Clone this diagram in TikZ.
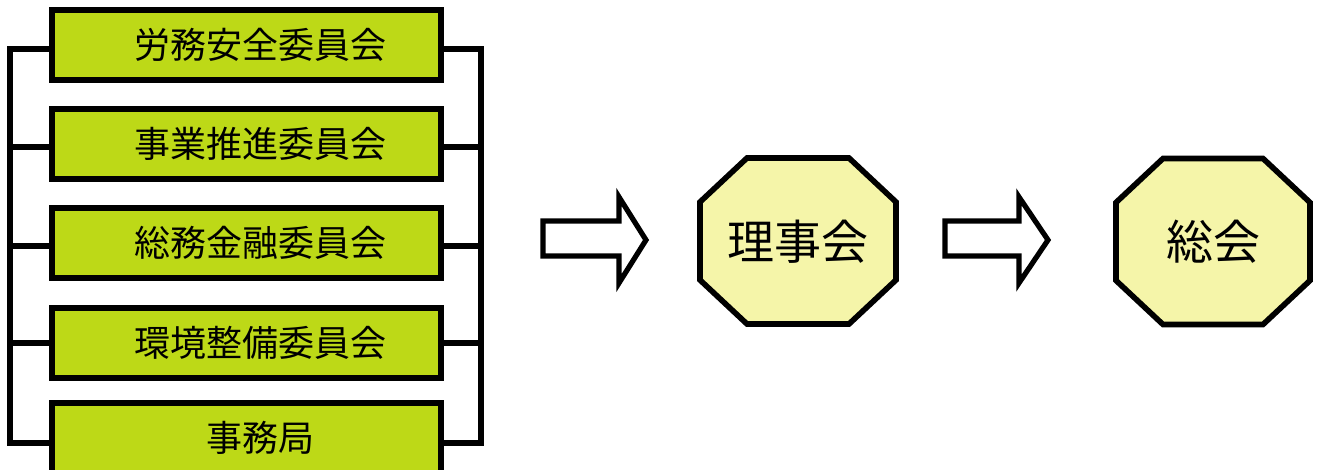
\documentclass[tikz,border=0pt]{standalone}
\usepackage{fontspec}
\newfontfamily\jp{Noto Sans CJK JP}
\usetikzlibrary{calc}
\definecolor{boxgreen}{RGB}{189,217,23}
\definecolor{octyellow}{RGB}{245,245,169}
\tikzset{
  committee/.style={draw=black, line width=3pt, fill=boxgreen, minimum width=194.5pt, minimum height=35pt, inner sep=0pt, font=\jp\fontsize{18pt}{18pt}\selectfont},
  conn/.style={draw=black, line width=2.6pt, line cap=rect},
  octnode/.style={inner sep=0pt, outer sep=0pt, font=\jp\fontsize{23.5pt}{23.5pt}\selectfont},
  octline/.style={draw=black, line width=2.8pt, fill=octyellow, line join=miter},
  blockarrow/.style={draw=black, line width=2.6pt, fill=white, line join=miter}
}
\begin{document}
\begin{tikzpicture}[x=0.5pt, y=-0.5pt]
\useasboundingbox (0,0) rectangle (1317,470);
% committee boxes
\node[committee] (b1) at (246.5,45)  {\hspace*{13.5pt}労務安全委員会};
\node[committee] (b2) at (246.5,144) {\hspace*{13.5pt}事業推進委員会};
\node[committee] (b3) at (246.5,243) {\hspace*{13.5pt}総務金融委員会};
\node[committee] (b4) at (246.5,343) {\hspace*{13.5pt}環境整備委員会};
\node[committee] (b5) at (246.5,438) {\hspace*{13.5pt}事務局};
% bus coordinates
\coordinate (L) at (10,0);
\coordinate (R) at (481,0);
% left bracket
\draw[conn] ($(b1.west)+(0,4)$) -| ($(L |- b5.west)+(0,5)$) -- ($(b5.west)+(0,5)$);
\draw[conn] ($(L |- b2.west)+(0,3)$) -- ($(b2.west)+(0,3)$);
\draw[conn] ($(L |- b3.west)+(0,3)$) -- ($(b3.west)+(0,3)$);
\draw[conn] ($(L |- b4.west)+(0,0)$) -- ($(b4.west)+(0,0)$);
% right bracket
\draw[conn] ($(b1.east)+(0,4)$) -| ($(R |- b5.east)+(0,5)$) -- ($(b5.east)+(0,5)$);
\draw[conn] ($(R |- b2.east)+(0,3)$) -- ($(b2.east)+(0,3)$);
\draw[conn] ($(R |- b3.east)+(0,3)$) -- ($(b3.east)+(0,3)$);
\draw[conn] ($(R |- b4.east)+(0,0)$) -- ($(b4.east)+(0,0)$);
% block arrows
\draw[blockarrow] (543,221) -- (619,221) -- (619,197) -- (646,240) -- (619,283) -- (619,256) -- (543,256) -- cycle;
\draw[blockarrow] (945,221) -- (1019,221) -- (1019,197) -- (1048,240) -- (1019,283) -- (1019,256) -- (945,256) -- cycle;
% octagons
\node[octnode, minimum width=98pt, minimum height=83pt] (rj) at (798,241) {};
\draw[octline] ([xshift=23.5pt]rj.north west) -- ([xshift=-23.5pt]rj.north east) -- ([yshift=-22pt]rj.north east) -- ([yshift=22pt]rj.south east) -- ([xshift=-23.5pt]rj.south east) -- ([xshift=23.5pt]rj.south west) -- ([yshift=22pt]rj.south west) -- ([yshift=-22pt]rj.north west) -- cycle;
\node[octnode] (rjt) at (798,242) {理事会};
\node[octnode, minimum width=97pt, minimum height=83pt] (sk) at (1213,241.5) {};
\draw[octline] ([xshift=23.5pt]sk.north west) -- ([xshift=-23.5pt]sk.north east) -- ([yshift=-22pt]sk.north east) -- ([yshift=22pt]sk.south east) -- ([xshift=-23.5pt]sk.south east) -- ([xshift=23.5pt]sk.south west) -- ([yshift=22pt]sk.south west) -- ([yshift=-22pt]sk.north west) -- cycle;
\node[octnode] (skt) at (1213,242) {総会};
\end{tikzpicture}
\end{document}
